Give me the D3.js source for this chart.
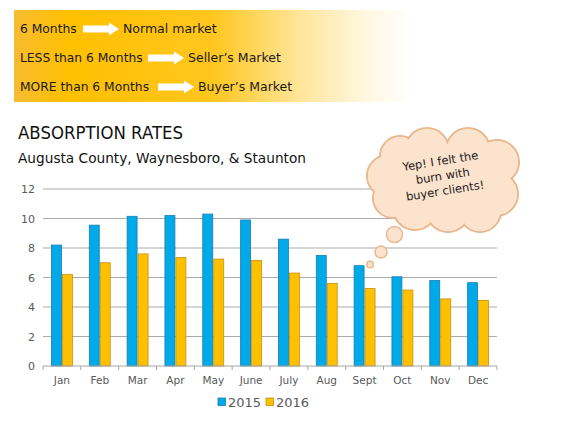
<!DOCTYPE html>
<html lang="en">
    <head>
        <meta charset="utf-8">
        <title>Absorption Rates</title>
        <script src="https://cdnjs.cloudflare.com/ajax/libs/d3/7.8.5/d3.min.js" charset="utf-8"></script>
        <style>
            body { margin: 0; background: #fff; }
            svg { display: block; font-family: "DejaVu Sans", sans-serif; }
        </style>
    </head>
    <body>
        <div class="container"></div>
        <script type="text/javascript">

            var months = ["Jan", "Feb", "Mar", "Apr", "May", "June", "July", "Aug", "Sept", "Oct", "Nov", "Dec"];
            var years = ["2015", "2016"];
            var rates2015 = [8.2, 9.55, 10.15, 10.2, 10.3, 9.9, 8.6, 7.5, 6.8, 6.05, 5.8, 5.65];
            var rates2016 = [6.2, 7.0, 7.6, 7.35, 7.25, 7.15, 6.3, 5.6, 5.25, 5.15, 4.55, 4.45];
            var yTicks = [0, 2, 4, 6, 8, 10, 12];
            var marketRules = ["6 Months", "LESS than 6 Months", "MORE than 6 Months"];
            var marketNames = ["Normal market", "Seller\u2019s Market", "Buyer\u2019s Market"];
            var bubbleLines = ["Yep! I felt the", "burn with", "buyer clients!"];

            var width = 576, height = 432;
            var fill = { "2015": "#00A9E8", "2016": "#FFC000" };
            var edge = { "2015": "#1B7DB0", "2016": "#C98E10" };
            var grey = "#595959";

            var svg = d3.select(".container").append("svg")
                .attr("width", width).attr("height", height);

            // yellow banner with gradient fading out to the right
            var grad = svg.append("defs").append("linearGradient").attr("id", "band")
                .attr("x1", "0%").attr("x2", "100%").attr("y1", "0%").attr("y2", "0%");
            [["0%", "#F6BC30"], ["14%", "#FFC000"], ["50%", "#FFC61E"], ["72%", "#FFE59A"], ["88%", "#FFF6DC"], ["100%", "#FFFFFF"]]
                .forEach(function(s) {
                    grad.append("stop").attr("offset", s[0]).attr("stop-color", s[1]);
                });
            svg.append("rect").attr("x", 14).attr("y", 10).attr("width", 396).attr("height", 92).attr("fill", "url(#band)");

            var ruleY = [33, 62, 91];
            var arrowX = [83, 148, 158];
            marketRules.forEach(function(t, i) {
                svg.append("text").text(t).attr("x", 20).attr("y", ruleY[i])
                    .attr("font-size", "12.3px").attr("fill", "#1a1a1a");
                var ax = arrowX[i], ay = ruleY[i] - 4;
                svg.append("path")
                    .attr("d", "M" + ax + "," + (ay - 3.5) + "H" + (ax + 26) + "V" + (ay - 6.5) + "L" + (ax + 36) + "," + ay
                        + "L" + (ax + 26) + "," + (ay + 6.5) + "V" + (ay + 3.5) + "H" + ax + "Z")
                    .attr("fill", "#fff");
                svg.append("text").text(marketNames[i]).attr("x", ax + 40).attr("y", ruleY[i])
                    .attr("font-size", "12.5px").attr("fill", "#1a1a1a");
            });

            // titles
            svg.append("text").text("ABSORPTION RATES").attr("x", 18).attr("y", 139)
                .attr("font-size", "17px").attr("fill", "#111").attr("textLength", 165).attr("lengthAdjust", "spacingAndGlyphs");
            svg.append("text").text("Augusta County, Waynesboro, & Staunton").attr("x", 18).attr("y", 163)
                .attr("font-size", "14.5px").attr("fill", "#111").attr("textLength", 288).attr("lengthAdjust", "spacingAndGlyphs");

            // scales
            var x0 = d3.scaleBand().domain(months).range([43, 497]).paddingInner(0.42).paddingOuter(0.21);
            var x1 = d3.scaleBand().domain(years).range([0, x0.bandwidth()]);
            var y = d3.scaleLinear().domain([0, 12]).range([366, 189]);

            // gridlines
            svg.selectAll("line.grid").data(yTicks.slice(1)).enter().append("line")
                .attr("x1", 43).attr("x2", 497)
                .attr("y1", function(d) { return y(d); }).attr("y2", function(d) { return y(d); })
                .attr("stroke", "#ABABAB").attr("stroke-width", 1);

            var yAxis = svg.append("g").attr("transform", "translate(43,0)")
                .call(d3.axisLeft(y).tickValues(yTicks).tickSize(0).tickPadding(8));
            yAxis.select(".domain").remove();
            yAxis.selectAll("text").attr("font-size", "11px").attr("fill", grey).attr("font-family", "DejaVu Sans");

            // bars
            var data = months.map(function(m, i) {
                return { month: m, values: [{ year: "2015", v: rates2015[i] }, { year: "2016", v: rates2016[i] }] };
            });
            var groups = svg.selectAll("g.month").data(data).enter().append("g")
                .attr("transform", function(d) { return "translate(" + x0(d.month) + ",0)"; });
            groups.selectAll("rect").data(function(d) { return d.values; }).enter().append("rect")
                .attr("x", function(d) { return x1(d.year) + 0.5; })
                .attr("y", function(d) { return y(d.v); })
                .attr("width", x1.bandwidth() - 1)
                .attr("height", function(d) { return y(0) - y(d.v); })
                .attr("fill", function(d) { return fill[d.year]; })
                .attr("stroke", function(d) { return edge[d.year]; })
                .attr("stroke-width", 0.8);

            // x axis line and boundary ticks
            svg.append("line").attr("x1", 43).attr("x2", 497).attr("y1", y(0)).attr("y2", y(0))
                .attr("stroke", "#A6A6A6").attr("stroke-width", 1);
            var bounds = d3.range(months.length + 1).map(function(i) { return x0.range()[0] + i * x0.step(); });
            svg.selectAll("line.tick").data(bounds).enter().append("line")
                .attr("x1", function(d) { return d; }).attr("x2", function(d) { return d; })
                .attr("y1", y(0)).attr("y2", y(0) + 4)
                .attr("stroke", "#A6A6A6");
            svg.selectAll("text.month").data(months).enter().append("text")
                .text(function(d) { return d; })
                .attr("x", function(d) { return x0(d) + x0.bandwidth() / 2; })
                .attr("y", 384).attr("text-anchor", "middle")
                .attr("font-size", "10.5px").attr("fill", grey);

            // legend
            var legendX = [218, 266];
            years.forEach(function(yr, i) {
                svg.append("rect").attr("x", legendX[i]).attr("y", 398).attr("width", 7.5).attr("height", 7.5)
                    .attr("fill", fill[yr]).attr("stroke", edge[yr]).attr("stroke-width", 0.8);
                svg.append("text").text(yr).attr("x", legendX[i] + 10).attr("y", 406.5)
                    .attr("font-size", "13px").attr("fill", grey);
            });

            // thought cloud
            var puffs = [[388, 176, 21], [400, 156, 20], [427, 150, 22], [468, 150, 22], [497, 162, 22],
                         [496, 194, 22], [480, 211, 21], [448, 210, 22], [415, 208, 22], [393, 198, 20]];
            var dots = [[394.5, 234.5, 8], [381, 252, 6], [370, 264.5, 3.3]];
            var cloud = svg.append("g");
            cloud.selectAll("circle.edge").data(puffs).enter().append("circle")
                .attr("cx", function(d) { return d[0]; }).attr("cy", function(d) { return d[1]; }).attr("r", function(d) { return d[2]; })
                .attr("fill", "#FCE3CE").attr("stroke", "#E9B88C").attr("stroke-width", 2);
            cloud.selectAll("circle.fill").data(puffs).enter().append("circle")
                .attr("cx", function(d) { return d[0]; }).attr("cy", function(d) { return d[1]; }).attr("r", function(d) { return d[2] - 1; })
                .attr("fill", "#FCE3CE");
            cloud.append("ellipse").attr("cx", 443).attr("cy", 180).attr("rx", 56).attr("ry", 36).attr("fill", "#FCE3CE");
            cloud.selectAll("circle.dot").data(dots).enter().append("circle")
                .attr("cx", function(d) { return d[0]; }).attr("cy", function(d) { return d[1]; }).attr("r", function(d) { return d[2]; })
                .attr("fill", "#FCE3CE").attr("stroke", "#E9B88C").attr("stroke-width", 1.5);

            var note = cloud.append("text").attr("transform", "translate(441,165) rotate(-9)")
                .attr("text-anchor", "middle").attr("font-size", "11.5px").attr("fill", "#222");
            bubbleLines.forEach(function(l, i) {
                note.append("tspan").text(l).attr("x", 0).attr("dy", i == 0 ? 0 : 15);
            });

        </script>
    </body>
</html>
